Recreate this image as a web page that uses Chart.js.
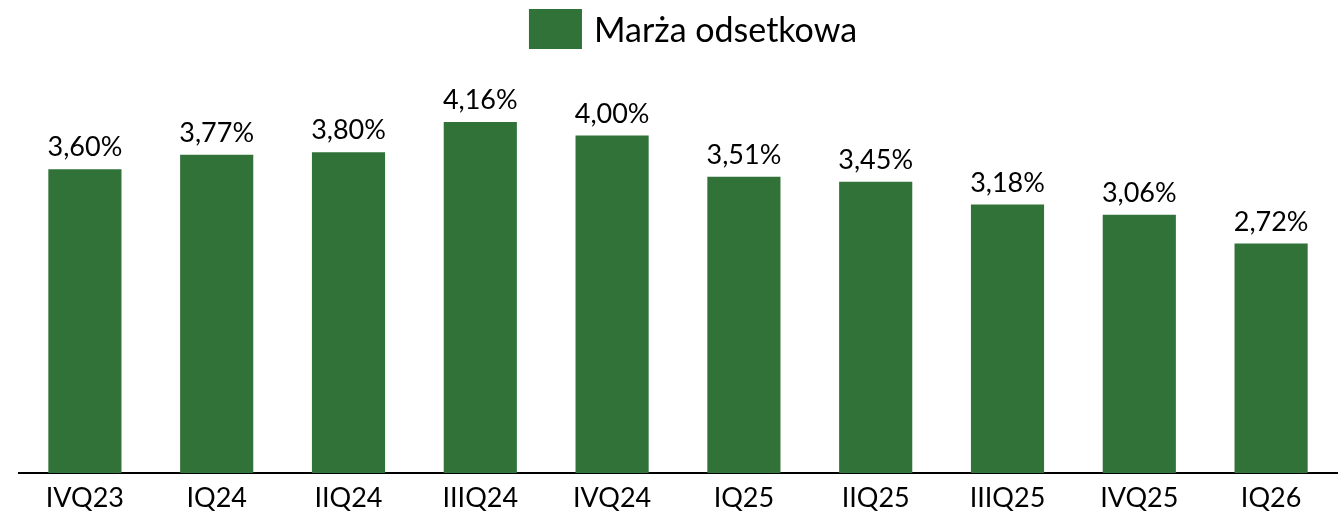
<!DOCTYPE html>
<html>
<head>
<meta charset="utf-8">
<script src="https://cdn.jsdelivr.net/npm/chart.js@4"></script>
<style>
  html, body { margin: 0; padding: 0; background: #fff; }
  #wrap { width: 1341px; height: 518px; }
</style>
</head>
<body>
<div id="wrap"><canvas id="chart"></canvas></div>
<script>
const quarters = ['IVQ23', 'IQ24', 'IIQ24', 'IIIQ24', 'IVQ24', 'IQ25', 'IIQ25', 'IIIQ25', 'IVQ25', 'IQ26']
const margin = [3.60, 3.77, 3.80, 4.16, 4.00, 3.51, 3.45, 3.18, 3.06, 2.72]
const seriesName = 'Marża odsetkowa'
const green = '#307238'
const fontName = 'Lato, "Open Sans", sans-serif'

const fmt = v => v.toFixed(2).replace('.', ',') + '%'

// value labels above bars
const barLabels = {
    id: 'barLabels',
    afterDatasetsDraw: (chart) => {
        const {ctx} = chart
        const meta = chart.getDatasetMeta(0)
        ctx.save()
        ctx.font = '27px ' + fontName
        ctx.fillStyle = '#000'
        ctx.textAlign = 'center'
        ctx.textBaseline = 'bottom'
        meta.data.forEach((bar, i) => {
            ctx.fillText(fmt(margin[i]), bar.x, bar.y - 8)
        })
        ctx.restore()
    }
}

// legend drawn by hand so it can sit where the original has it
const topLegend = {
    id: 'topLegend',
    afterDraw: (chart) => {
        const {ctx} = chart
        ctx.save()
        ctx.font = '34px ' + fontName
        const tw = ctx.measureText(seriesName).width
        const boxW = 53, boxH = 40, gap = 12
        const total = boxW + gap + tw
        const x0 = 693 - total / 2
        ctx.fillStyle = green
        ctx.fillRect(x0, 9, boxW, boxH)
        ctx.fillStyle = '#000'
        ctx.textBaseline = 'middle'
        ctx.textAlign = 'left'
        ctx.fillText(seriesName, x0 + boxW + gap, 31)
        ctx.restore()
    }
}

new Chart(document.getElementById('chart'), {
    type: 'bar',
    data: {
        labels: quarters,
        datasets: [{
            label: seriesName,
            data: margin,
            backgroundColor: green,
            categoryPercentage: 1,
            barPercentage: 0.555
        }]
    },
    options: {
        responsive: true,
        maintainAspectRatio: false,
        animation: false,
        layout: { padding: { left: 19, right: 4, top: 51, bottom: 0 } },
        plugins: {
            legend: { display: false },
            tooltip: { enabled: false }
        },
        scales: {
            x: {
                grid: { display: false, drawTicks: false },
                border: { display: true, color: '#000', width: 2 },
                ticks: { color: '#000', font: { family: fontName, size: 27 }, padding: 9, maxRotation: 0 },
                afterFit: s => { s.height = 45 }
            },
            y: {
                display: false,
                min: 0,
                max: 5
            }
        }
    },
    plugins: [barLabels, topLegend]
})
</script>
</body>
</html>
